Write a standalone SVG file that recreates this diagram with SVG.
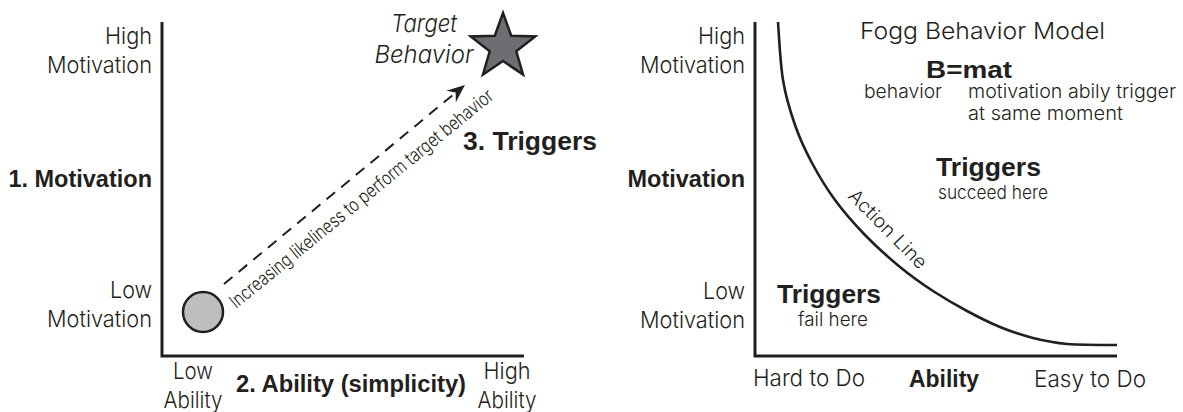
<svg xmlns="http://www.w3.org/2000/svg" width="1183" height="412" viewBox="0 0 1183 412">
  <style>
    text { font-family: "Liberation Sans", Arial, sans-serif; }
    .lt { font-family: Inter, "Liberation Sans", Arial, sans-serif; font-weight: 300; font-size: 23px; fill: #231f20; }
    .sm { font-family: Inter, "Liberation Sans", Arial, sans-serif; font-weight: 300; font-size: 19px; fill: #231f20; }
    .bd { font-size: 23.5px; font-weight: bold; fill: #231f20; }
    .tr { font-size: 26px; font-weight: bold; fill: #231f20; }
    .it { font-family: Inter, "Liberation Sans", Arial, sans-serif; font-weight: 300; font-size: 24px; font-style: italic; fill: #231f20; }
    .axis { fill: none; stroke: #231f20; stroke-width: 3; stroke-linejoin: miter; }
    .curve { fill: none; stroke: #231f20; stroke-width: 2.6; }
    .dash { fill: none; stroke: #231f20; stroke-width: 2; stroke-dasharray: 11 8; }
    .end { text-anchor: end; }
    .mid { text-anchor: middle; }
  </style>
  <defs>
    <marker id="arrow" viewBox="0 0 20 16" markerWidth="20" markerHeight="16" refX="7" refY="8" orient="auto" markerUnits="userSpaceOnUse">
      <path d="M19,8 L1,0.5 L7,8 L1,15.5 Z" fill="#231f20" stroke="none"/>
    </marker>
  </defs>

  <!-- Left chart -->
  <g id="left-chart">
    <polyline class="axis" points="162,22 162,356 524,356"/>
    <g id="left-y-labels">
      <text class="lt end" x="152" y="44" textLength="47" lengthAdjust="spacingAndGlyphs">High</text>
      <text class="lt end" x="152" y="73" textLength="105" lengthAdjust="spacingAndGlyphs">Motivation</text>
      <text class="bd end" x="152" y="187">1. Motivation</text>
      <text class="lt end" x="152" y="298" textLength="42" lengthAdjust="spacingAndGlyphs">Low</text>
      <text class="lt end" x="152" y="327" textLength="105" lengthAdjust="spacingAndGlyphs">Motivation</text>
    </g>
    <g id="left-x-labels">
      <text class="lt mid" x="193" y="379" textLength="40" lengthAdjust="spacingAndGlyphs">Low</text>
      <text class="lt mid" x="193" y="408" textLength="59" lengthAdjust="spacingAndGlyphs">Ability</text>
      <text class="bd" x="236" y="392" textLength="230" lengthAdjust="spacingAndGlyphs">2. Ability (simplicity)</text>
      <text class="lt mid" x="507" y="379" textLength="47" lengthAdjust="spacingAndGlyphs">High</text>
      <text class="lt mid" x="507" y="408" textLength="59" lengthAdjust="spacingAndGlyphs">Ability</text>
    </g>
    <g id="start-circle">
      <circle cx="203" cy="312" r="20" fill="#bcbec0" stroke="#231f20" stroke-width="2.5"/>
    </g>
    <g id="target-star">
      <polygon points="503,13 511.2,35.7 535.3,36.5 516.3,51.3 523,74.5 503,61 483,74.5 489.7,51.3 470.7,36.5 494.8,35.7" fill="#6d6e71" stroke="#231f20" stroke-width="2.5" stroke-linejoin="miter"/>
      <text class="it mid" x="424" y="32" textLength="66" lengthAdjust="spacingAndGlyphs">Target</text>
      <text class="it mid" x="424" y="63" textLength="99" lengthAdjust="spacingAndGlyphs">Behavior</text>
    </g>
    <g id="triggers-label">
      <text class="tr" x="463" y="150" textLength="134" lengthAdjust="spacingAndGlyphs">3. Triggers</text>
    </g>
  </g>

  <g id="connectors">
    <line class="dash" x1="224" y1="284" x2="455.7" y2="92.6" marker-end="url(#arrow)"/>
    <text class="sm" x="236" y="309" transform="rotate(-39.2 236 309)" font-size="18" textLength="334" lengthAdjust="spacingAndGlyphs">Increasing likeliness to perform target behavior</text>
  </g>

  <!-- Right chart -->
  <g id="right-chart">
    <polyline class="axis" points="755,22 755,356 1117,356"/>
    <g id="action-line">
      <path class="curve" d="M778,22 C779.3,40.3 780.2,62.8 783,80 C785.8,97.2 790.2,111.2 795,125 C799.8,138.8 805.3,150.5 812,163 C818.7,175.5 826.2,188 835,200 C843.8,212 854.2,223.8 865,235 C875.8,246.2 888.7,257.7 900,267 C911.3,276.3 921.8,283.7 933,291 C944.2,298.3 955.8,305 967,311 C978.2,317 989,322.5 1000,327 C1011,331.5 1021.8,335.2 1033,338 C1044.2,340.8 1053,342.8 1067,344 C1081,345 1100.3,345 1117,345"/>
      <text class="sm" x="847" y="197" transform="rotate(45.3 847 197)" textLength="103" lengthAdjust="spacingAndGlyphs">Action Line</text>
    </g>
    <g id="right-y-labels">
      <text class="lt end" x="745" y="44" textLength="47" lengthAdjust="spacingAndGlyphs">High</text>
      <text class="lt end" x="745" y="73" textLength="105" lengthAdjust="spacingAndGlyphs">Motivation</text>
      <text class="bd end" x="745" y="187">Motivation</text>
      <text class="lt end" x="745" y="299" textLength="42" lengthAdjust="spacingAndGlyphs">Low</text>
      <text class="lt end" x="745" y="328" textLength="105" lengthAdjust="spacingAndGlyphs">Motivation</text>
    </g>
    <g id="right-x-labels">
      <text class="lt" x="753" y="386" textLength="112" lengthAdjust="spacingAndGlyphs">Hard to Do</text>
      <text class="bd" x="909" y="387" textLength="70" lengthAdjust="spacingAndGlyphs">Ability</text>
      <text class="lt" x="1034" y="387" textLength="112" lengthAdjust="spacingAndGlyphs">Easy to Do</text>
    </g>
    <g id="model-title">
      <text class="lt" x="860" y="39" font-size="24" textLength="245" lengthAdjust="spacingAndGlyphs">Fogg Behavior Model</text>
      <text class="bd" x="926" y="78" font-size="25" textLength="86" lengthAdjust="spacingAndGlyphs">B=mat</text>
      <text class="sm" x="864" y="98" font-size="17" textLength="78" lengthAdjust="spacingAndGlyphs">behavior</text>
      <text class="sm" x="968" y="98" font-size="17" textLength="208" lengthAdjust="spacingAndGlyphs">motivation abily trigger</text>
      <text class="sm" x="968" y="120" font-size="17" textLength="155" lengthAdjust="spacingAndGlyphs">at same moment</text>
    </g>
    <g id="triggers-succeed">
      <text class="tr" x="936" y="176" textLength="105" lengthAdjust="spacingAndGlyphs">Triggers</text>
      <text class="sm" x="938" y="199" textLength="110" lengthAdjust="spacingAndGlyphs">succeed here</text>
    </g>
    <g id="triggers-fail">
      <text class="tr" x="777" y="303" textLength="104" lengthAdjust="spacingAndGlyphs">Triggers</text>
      <text class="sm" x="798" y="326" textLength="70" lengthAdjust="spacingAndGlyphs">fail here</text>
    </g>
  </g>
</svg>
